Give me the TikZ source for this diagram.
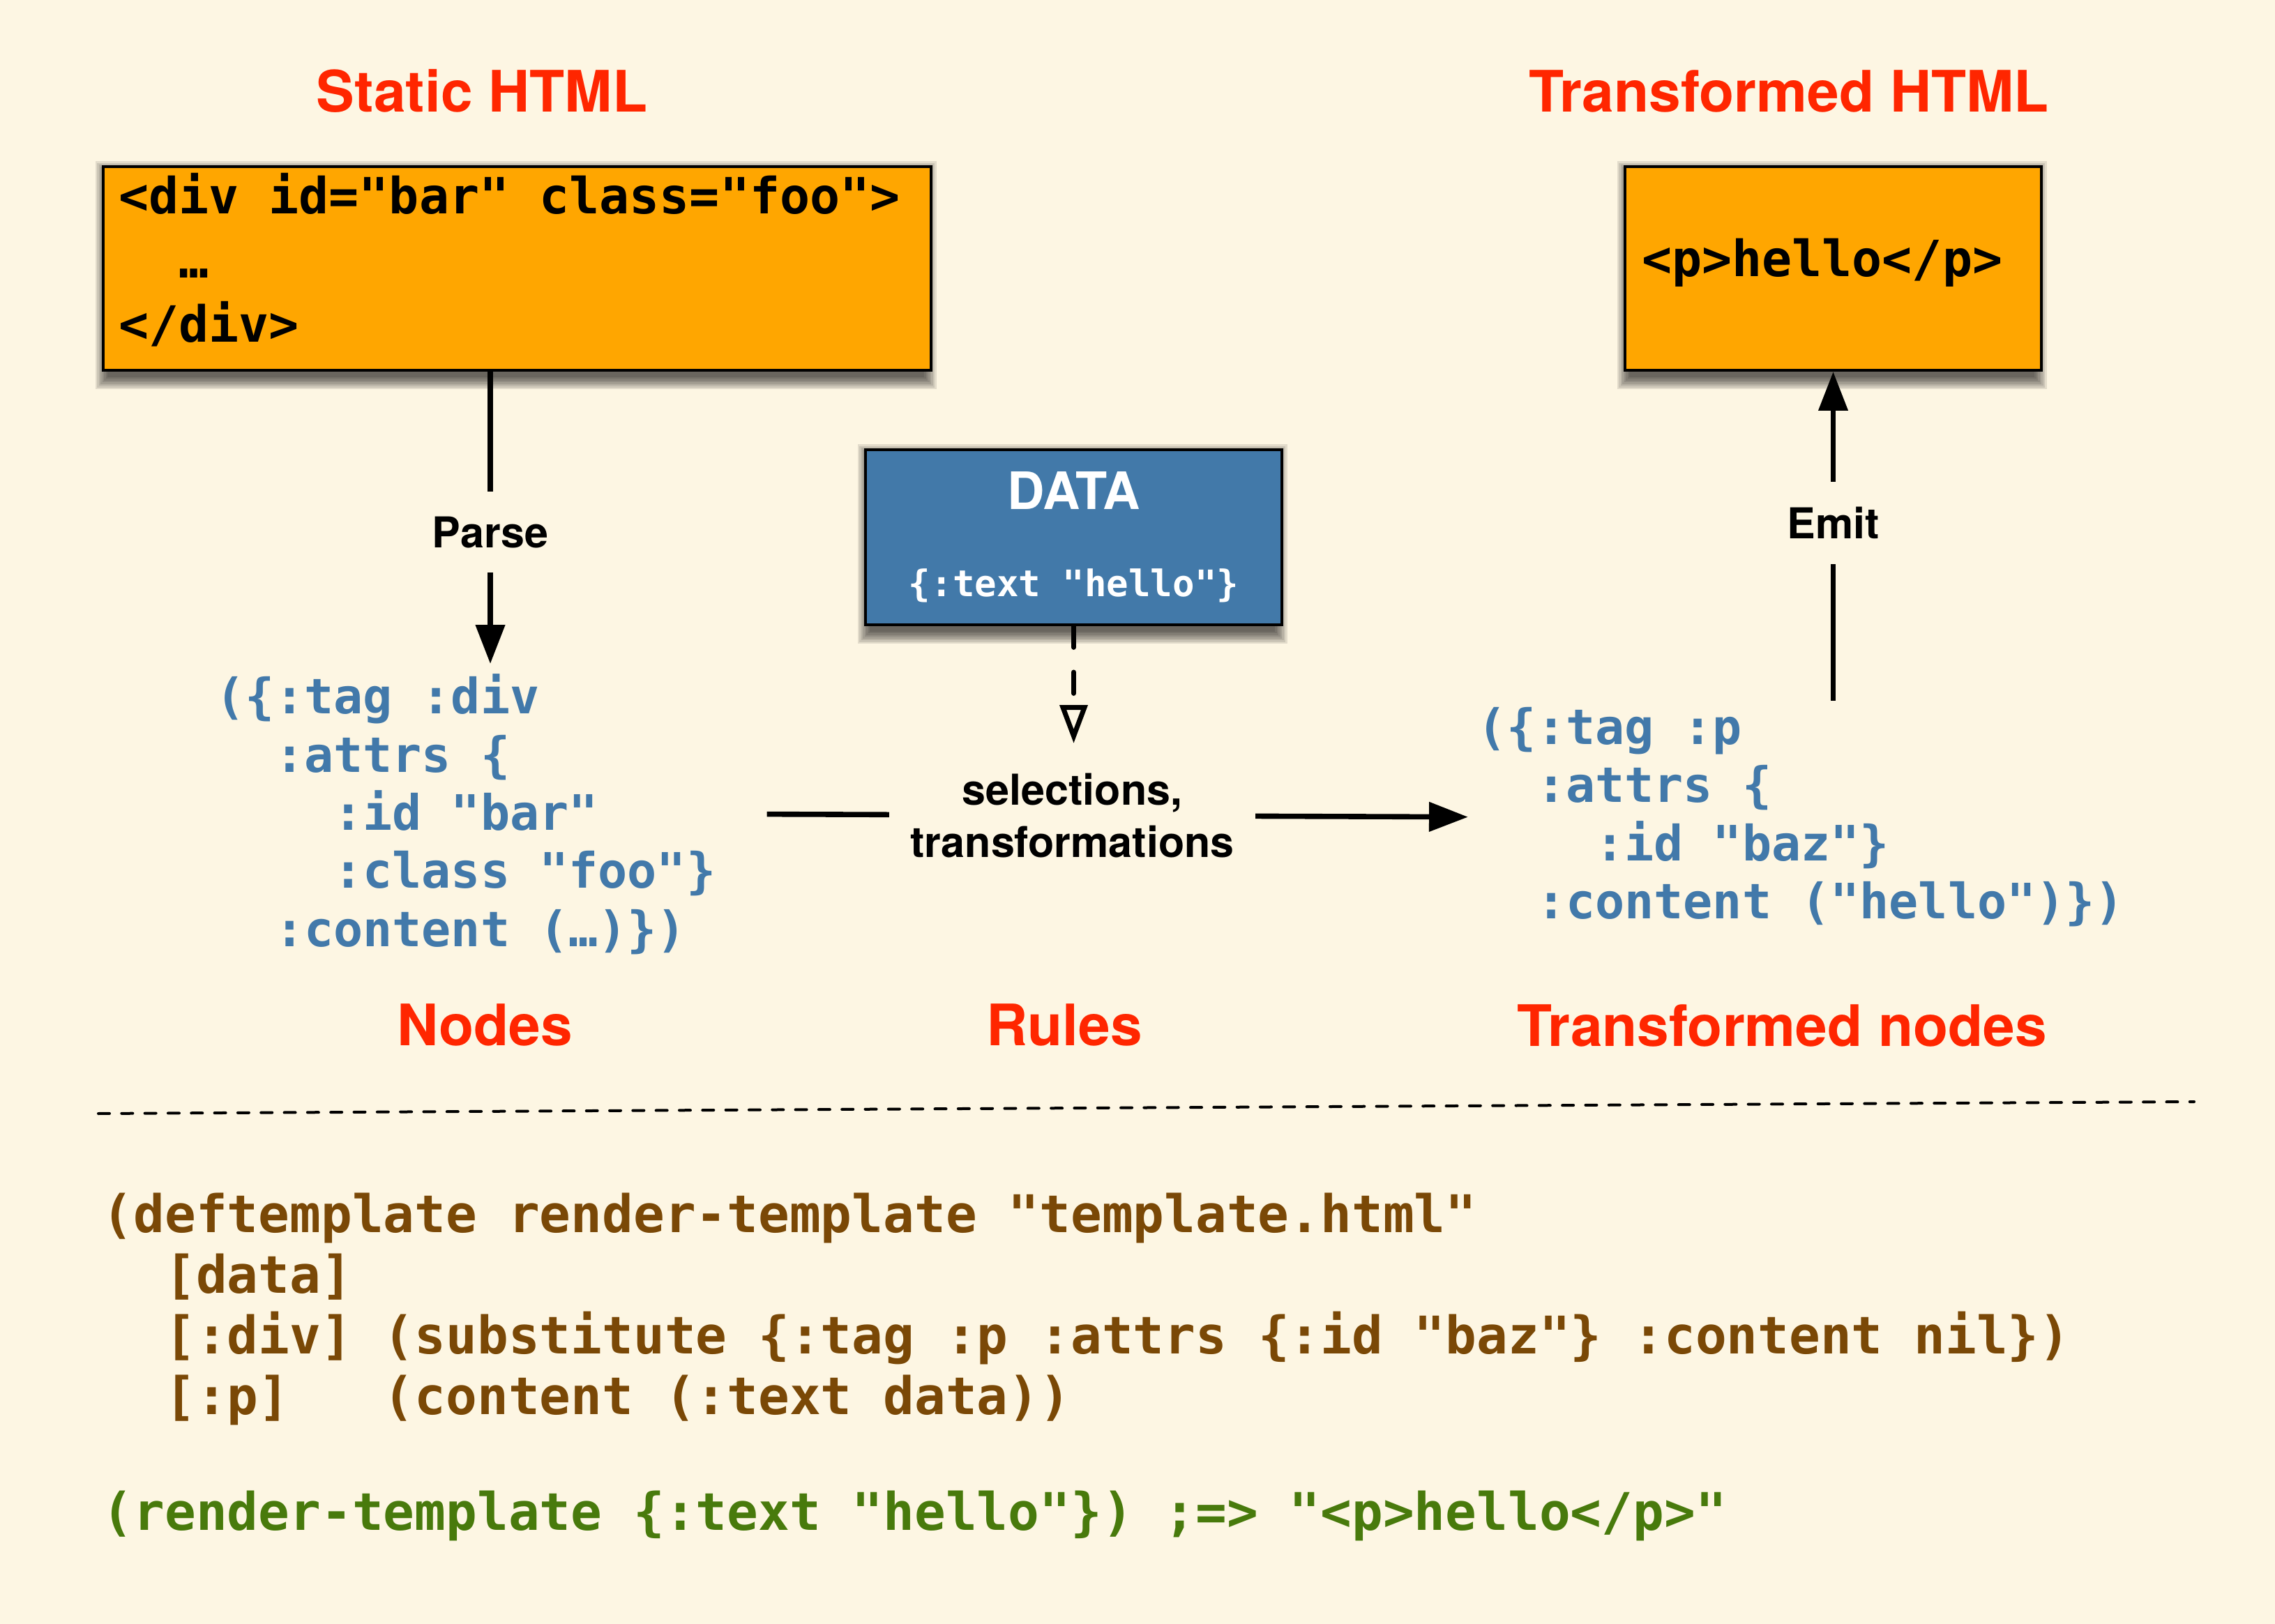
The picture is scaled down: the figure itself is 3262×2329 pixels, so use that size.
\documentclass[tikz,border=0pt]{standalone}
\usepackage{fontspec}
\newfontfamily\heros{TeX Gyre Heros}
\newfontfamily\mono{DejaVu Sans Mono}
\usetikzlibrary{arrows.meta,calc}
\definecolor{bgc}{HTML}{FDF6E3}
\definecolor{orangec}{HTML}{FFA600}
\definecolor{bluefill}{HTML}{4279A9}
\definecolor{bluetext}{HTML}{4279AA}
\definecolor{redc}{HTML}{FF2600}
\definecolor{brownc}{HTML}{7A4806}
\definecolor{greenc}{HTML}{487A0C}
\newcommand\boxshadow[4]{%
  \foreach \k in {0,...,7}{%
    \fill[black,opacity=0.1] (#1+8-2.5*\k,#2+12-2.5*\k) rectangle (#3-8+2.5*\k,#4+12+2.5*\k);}}
\newcommand\dstrut[1]{\rule[-#1]{0pt}{#1}}
\newcommand\msp{\hphantom{x}}
\begin{document}
\begin{tikzpicture}[x=0.25pt,y=-0.25pt,
  redtitle/.style={font=\heros\bfseries\fontsize{20.5}{24}\selectfont,text=redc,inner sep=0pt,anchor=base},
  lbl/.style={font=\heros\bfseries\fontsize{15.25}{18.75}\selectfont,fill=bgc,align=center,inner ysep=0pt},
  conn/.style={line width=1.9pt,-{Triangle[length=14pt,width=10.25pt]}},
  obox/.style={draw=black,line width=1pt,fill=orangec,anchor=north west,align=left,inner ysep=0pt,font=\mono\bfseries\fontsize{17.9}{23}\selectfont},
  bluecode/.style={font=\mono\bfseries\fontsize{17.5}{20.83}\selectfont,text=bluetext,align=left,inner sep=0pt,anchor=base west},
  clj/.style={font=\mono\bfseries\fontsize{18.6}{21.75}\selectfont,align=left,inner sep=0pt,anchor=base west},
]
\fill[bgc] (0,0) rectangle (3262,2329);
\useasboundingbox (0,0) rectangle (3262,2329);

% shadows
\boxshadow{146}{237}{1333}{529}
\boxshadow{2328}{237}{2925}{529}
\boxshadow{1239}{643}{1836}{894}

% titles
\node[redtitle] (t1) at (691,160.7) {Static HTML};
\node[redtitle] (t2) at (2565,160.7) {Transformed HTML};

% boxes
\node[obox,text width=285.75pt,inner xsep=5.5pt,minimum height=73pt] (shtml) at (146,237)
  {<div\msp id="bar"\msp class="foo">\\\hphantom{xx}…\\</div>\dstrut{7.9pt}};
\node[obox,text width=137.25pt,inner xsep=6pt,minimum height=73pt] (rhtml) at (2328,237)
  {<p>hello</p>\dstrut{8pt}};
\node[draw=black,line width=1pt,fill=bluefill,text=white,anchor=north west,minimum width=149.25pt,
  minimum height=62.75pt,inner sep=0pt,align=center,font=\fontsize{18.5}{31.25}\selectfont] (data) at (1239,643)
  {{\heros\bfseries DATA}\\{\mono\bfseries\fontsize{13.1}{15}\selectfont \{:text\msp"hello"\}}};

% blue code (anchor = baseline of last line)
\node[bluecode] (lcode) at (309,1357)
  {(\{:tag :div\\\hphantom{xx}:attrs \{\\\hphantom{xxxx}:id "bar"\\\hphantom{xxxx}:class "foo"\}\\\hphantom{xx}:content (…)\})};
\node[bluecode] (rcode) at (2118,1317.5)
  {(\{:tag :p\\\hphantom{xx}:attrs \{\\\hphantom{xxxx}:id "baz"\}\\\hphantom{xx}:content ("hello")\})};

% red labels
\node[redtitle] (l1) at (695,1499) {Nodes};
\node[redtitle] (l2) at (1526,1499) {Rules};
\node[redtitle] (l3) at (2555,1500) {Transformed nodes};

% connectors
\coordinate (ptip) at ($(lcode.north west)+(394,-14)$);
\draw[conn] (shtml.south -| ptip) -- (ptip) node[lbl,pos=0.55,minimum height=29pt] (parse) {Parse};
\draw[conn] ($(rcode.north -| rhtml.south)+(0,-9)$) -- (rhtml.south) node[lbl,pos=0.539,minimum height=29.5pt] (emit) {Emit};
\draw[conn] ([xshift=18.15pt]lcode.east) -- ([xshift=-3.25pt]rcode.west)
  node[lbl,pos=0.4355,inner xsep=7.6pt] (rules) {selections,\\transformations};
\draw[line width=1.75pt,dash pattern=on 7.6pt off 8.9pt,line cap=round,-{Triangle[open,length=13.75pt,width=9.75pt]}]
  (data.south) -- ($(data.south |- rules.north)+(0,-39)$);

% separator
\draw[line width=1pt,line cap=round,dash pattern=on 4pt off 4.33pt] (141,1597) -- (3146,1580);

% bottom code (anchor = baseline of last line)
\node[clj,text=brownc] (tmpl) at (146,2028.75)
  {(deftemplate render-template "template.html"\\\hphantom{xx}[data]\\\hphantom{xx}[:div] (substitute \{:tag :p :attrs \{:id "baz"\} :content nil\})\\\hphantom{xx}[:p]\hphantom{xxx}(content (:text data))};
\node[clj,text=greenc] (call) at (146,2194) {(render-template \{:text "hello"\}) ;=> "<p>hello</p>"};
\end{tikzpicture}
\end{document}
